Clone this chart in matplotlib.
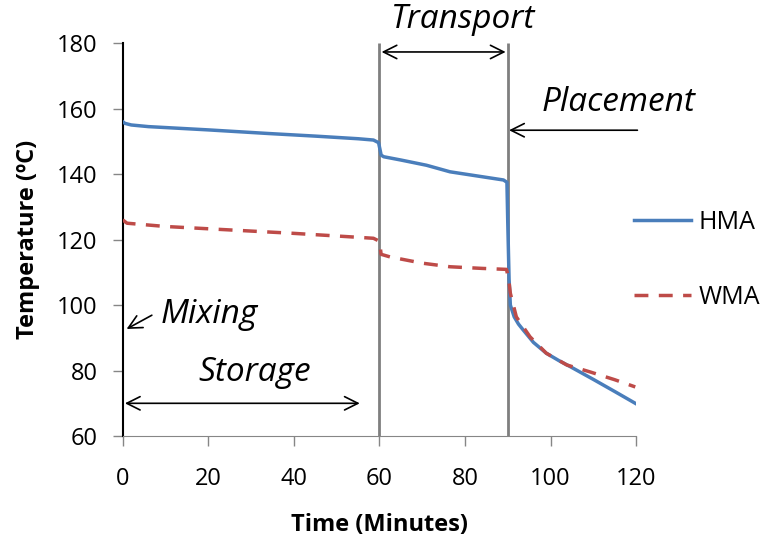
import matplotlib
matplotlib.use("Agg")
import matplotlib.pyplot as plt

# HMA curve (time in minutes, temperature in C)
hma_t = [0, 0.5, 2, 6, 20, 34, 45, 55, 58.6, 59.8, 60.4, 61, 65, 71, 76.5, 84, 89, 89.8, 90, 90.3, 90.6, 91.5, 92.5, 93.6, 96, 99, 102, 104.6, 110, 115, 119.8]
hma_y = [156, 155.5, 155, 154.5, 153.5, 152.4, 151.6, 150.8, 150.4, 149.6, 145.8, 145.3, 144.3, 142.7, 140.7, 139.2, 138.2, 137.5, 125, 108, 100, 96.4, 94.2, 92.4, 88.6, 85.3, 83, 81.2, 77.3, 73.6, 70]

# WMA curve
wma_t = [0, 1, 10, 20, 30, 40, 50, 58.6, 60, 60.4, 62.5, 70, 76.5, 84, 89.7, 90.2, 90.6, 92, 95.2, 99, 103.8, 109.2, 115, 119.8]
wma_y = [126, 125, 124, 123.3, 122.6, 121.9, 121.1, 120.4, 119.5, 115.5, 114.7, 112.8, 111.7, 111.2, 110.9, 108, 103.6, 96.4, 90.3, 85.3, 81.7, 79.6, 77.2, 75]

x_ticks = [0, 20, 40, 60, 80, 100, 120]
y_ticks = [60, 80, 100, 120, 140, 160, 180]

plt.rcParams['font.family'] = ['Open Sans', 'DejaVu Sans']

fig = plt.figure(figsize=(7.72, 5.39), dpi=100)
ax = fig.add_axes([0.159, 0.191, 0.665, 0.729])

ax.plot(hma_t, hma_y, color='#4A7EBB', lw=2.5, label='HMA', zorder=3)
ax.plot(wma_t, wma_y, color='#BE4B48', lw=2.5, ls=(0, (4, 3)), label='WMA', zorder=3)

# phase boundaries
ax.vlines([60, 90], 60, 180, colors='#7F7F7F', lw=2, zorder=2)

ax.set_xlim(0, 120)
ax.set_ylim(60, 180)
ax.set_xticks(x_ticks)
ax.set_yticks(y_ticks)
ax.tick_params(labelsize=17, length=7, width=1, color='#868686')
ax.tick_params(axis='y', pad=11)
ax.tick_params(axis='x', pad=15)
for s in ['top', 'right']:
    ax.spines[s].set_visible(False)
ax.spines['left'].set_color('#000000')
ax.spines['left'].set_linewidth(1.5)
ax.spines['bottom'].set_color('#868686')

ax.set_xlabel('Time (Minutes)', fontsize=17, fontweight='bold', labelpad=16)
ax.set_ylabel('Temperature (ºC)', fontsize=17, fontweight='bold', labelpad=12)

arr = dict(arrowstyle='<->', color='black', lw=1.2, mutation_scale=24, shrinkA=0, shrinkB=0)
ax.annotate('', xy=(60.5, 177.3), xytext=(89.5, 177.3), arrowprops=arr, annotation_clip=False)
ax.annotate('', xy=(0.5, 70), xytext=(55.4, 70), arrowprops=arr)
arr1 = dict(arrowstyle='->', color='black', lw=1.2, mutation_scale=24, shrinkA=0, shrinkB=0)
ax.annotate('', xy=(90.3, 153.4), xytext=(120.3, 153.4), arrowprops=arr1, annotation_clip=False)
ax.annotate('', xy=(0.9, 92.7), xytext=(6.8, 96.9), arrowprops=arr1)

tk = dict(fontsize=24, style='italic', ha='center', va='center')
ax.text(79.5, 187.2, 'Transport', clip_on=False, **tk)
ax.text(115.8, 162, 'Placement', clip_on=False, **tk)
ax.text(20.3, 97, 'Mixing', **tk)
ax.text(30.9, 79.5, 'Storage', **tk)

fig.legend(loc='center left', bbox_to_anchor=(0.808, 0.518), frameon=False, borderaxespad=0,
           fontsize=18, labelspacing=2.0, handlelength=2.3, handletextpad=0.3)

fig.savefig('out.png', dpi=100)
